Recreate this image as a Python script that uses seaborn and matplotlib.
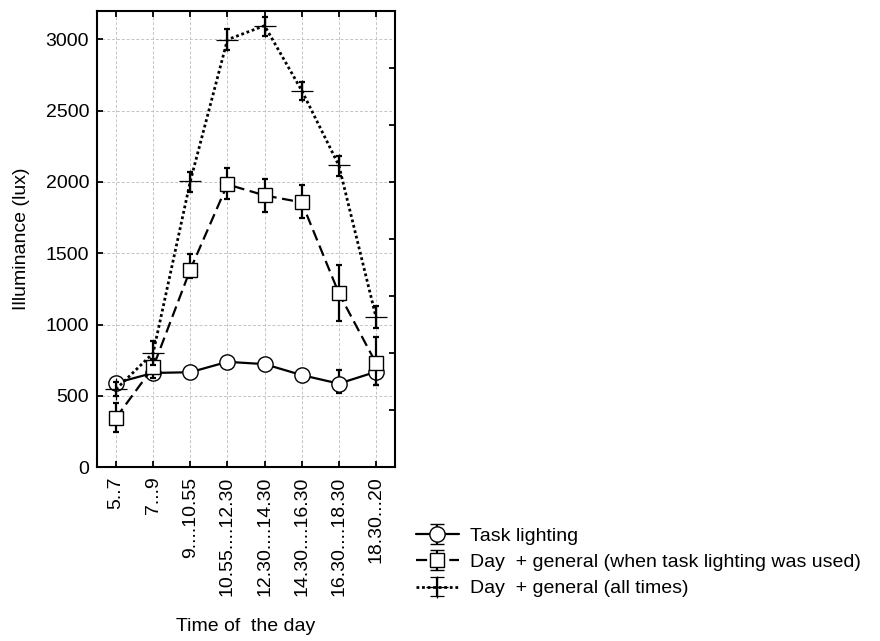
import numpy as np
import pandas as pd
import matplotlib
matplotlib.use("Agg")
import matplotlib.pyplot as plt
import seaborn as sns

periods = ["5..7", "7...9", "9....10.55", "10.55....12.30", "12.30....14.30",
           "14.30....16.30", "16.30....18.30", "18.30...20"]

task_mean = [590, 660, 665, 738, 722, 645, 585, 668]
task_lo = [555, 625, 630, 705, 690, 612, 518, 578]
task_hi = [625, 695, 700, 770, 755, 680, 680, 758]

day_used_mean = [345, 700, 1385, 1983, 1906, 1857, 1219, 729]
day_used_lo = [245, 624, 1324, 1878, 1787, 1745, 1023, 575]
day_used_hi = [448, 760, 1493, 2095, 2018, 1976, 1415, 911]

day_all_mean = [546, 799, 2004, 2999, 3097, 2642, 2116, 1051]
day_all_lo = [495, 715, 1927, 2929, 3027, 2572, 2039, 974]
day_all_hi = [600, 883, 2067, 3076, 3160, 2705, 2179, 1128]

labels = ["Task lighting",
          "Day  + general (when task lighting was used)",
          "Day  + general (all times)"]

sns.set_style("ticks")
plt.rcParams['font.family'] = ['Liberation Sans', 'DejaVu Sans']
for k in ['text.color', 'axes.labelcolor', 'xtick.color', 'ytick.color', 'axes.edgecolor']:
    plt.rcParams[k] = 'black'
FS = 14

fig = plt.figure(figsize=(8.8, 6.41), dpi=100)
ax = fig.add_axes([97.4 / 880, 174 / 641, (394.6 - 97.4) / 880, (467 - 11) / 641])

x = np.arange(len(periods))
styles = [
    dict(marker='o', markersize=11, markerfacecolor='white', markeredgecolor='black',
         markeredgewidth=1.0, linestyle='-', linewidth=1.6),
    dict(marker='s', markersize=10, markerfacecolor='white', markeredgecolor='black',
         markeredgewidth=1.0, linestyle=(0, (5, 2.5)), linewidth=1.6),
    dict(marker='+', markersize=16, markerfacecolor='white', markeredgecolor='black',
         markeredgewidth=0.9, linestyle=(0, (1, 1)), linewidth=2.0),
]
series = [(task_mean, task_lo, task_hi),
          (day_used_mean, day_used_lo, day_used_hi),
          (day_all_mean, day_all_lo, day_all_hi)]

for i, ((m, lo, hi), st, lab) in enumerate(zip(series, styles, labels)):
    m = np.array(m, float)
    lo = np.array(lo, float)
    hi = np.array(hi, float)
    ax.errorbar(x, m, yerr=[m - lo, hi - m], fmt='none', ecolor='black',
                elinewidth=1.6, capsize=2.5, capthick=1.6, zorder=2 + i)
    df = pd.DataFrame({"x": x, "y": m})
    sns.lineplot(data=df, x="x", y="y", ax=ax, color='black', legend=False,
                 zorder=2.5 + i, **st)

ax.set_xlim(-0.5, 7.5)
ax.set_ylim(0, 3200)
ax.set_xticks(x)
ax.set_xticklabels(periods, rotation=90, fontsize=FS)
ax.set_yticks(np.arange(0, 3001, 500))
ax.grid(True, color='#c4c4c4', linestyle=(0, (3, 2)), linewidth=0.7)
ax.set_axisbelow(True)
ax.tick_params(direction='in', length=4, width=1.3, top=True, right=False,
               colors='black', labelsize=FS)
ax.tick_params(axis='y', pad=6)
ax.tick_params(axis='x', pad=7)
for s in ax.spines.values():
    s.set_linewidth(1.5)
    s.set_color('black')
ax.set_xlabel("Time of  the day", fontsize=FS)
ax.set_ylabel("Illuminance (lux)", fontsize=FS)
ax.xaxis.set_label_coords(0.5, -0.331)
ax.yaxis.set_label_coords(-0.227, 0.5)

ax2 = ax.twinx()
ax2.set_ylim(0, 3200)
ax2.set_yticks(np.arange(400, 3200, 400))
ax2.set_yticklabels([])
ax2.tick_params(direction='in', length=4, width=1.3)
for s in ax2.spines.values():
    s.set_visible(False)

handles = []
for st, lab in zip(styles, labels):
    h = ax.errorbar([np.nan], [np.nan], yerr=[[np.nan], [np.nan]], color='black',
                    elinewidth=1.6, capsize=5, capthick=1.6, label=lab, **st)
    handles.append(h)
fig.legend(handles=handles, labels=labels, loc='upper left',
           bbox_to_anchor=(416 / 880, 1 - 527 / 641), frameon=False,
           fontsize=FS, labelspacing=0.45, handlelength=2.2, handletextpad=0.6,
           borderaxespad=0, borderpad=0)

fig.savefig("out.png", dpi=100)
